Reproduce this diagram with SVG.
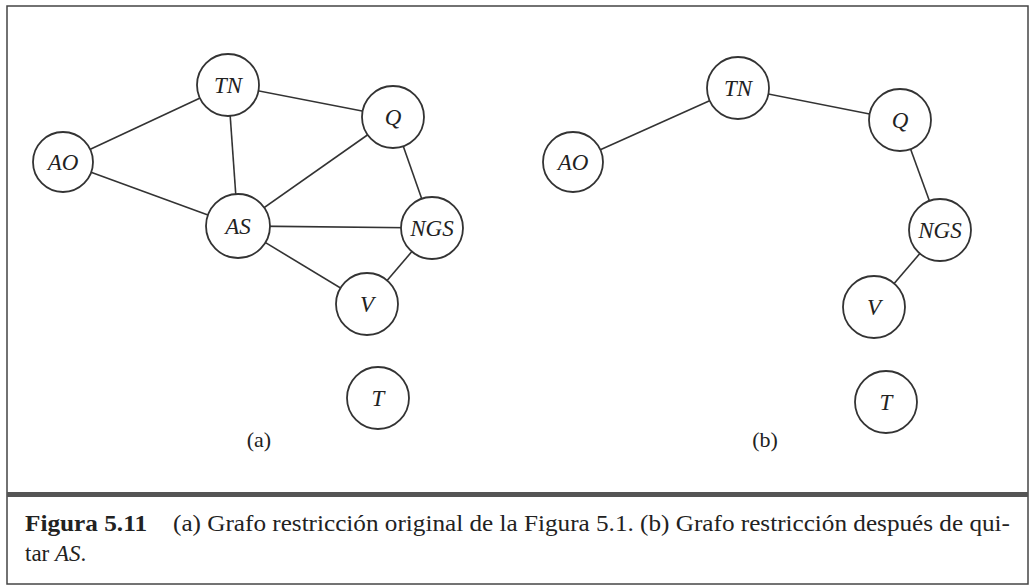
<svg xmlns="http://www.w3.org/2000/svg" width="1032" height="586" viewBox="0 0 1032 586">
<style>
.frame{fill:none;stroke:#444;stroke-width:1.5}
.edge{stroke:#333;stroke-width:1.6;fill:none}
.node circle{fill:#fff;stroke:#333;stroke-width:1.8}
.node text{font-family:"Liberation Serif","DejaVu Serif",serif;font-style:italic;font-size:23px;fill:#222;text-anchor:middle}
.sub{font-family:"Liberation Serif","DejaVu Serif",serif;font-size:22px;fill:#222;text-anchor:middle}
.cap{font-family:"Liberation Serif","DejaVu Serif",serif;font-size:23px;fill:#222}
</style>
<rect width="1032" height="586" fill="#fff"/>
<rect class="frame" x="7" y="6" width="1021" height="578"/>
<rect x="7" y="492" width="1021" height="5" fill="#555"/>
<g id="connectors">
<line class="edge" x1="228" y1="85" x2="63" y2="162"/>
<line class="edge" x1="228" y1="85" x2="393" y2="117"/>
<line class="edge" x1="228" y1="85" x2="238" y2="226"/>
<line class="edge" x1="63" y1="162" x2="238" y2="226"/>
<line class="edge" x1="393" y1="117" x2="238" y2="226"/>
<line class="edge" x1="393" y1="117" x2="432" y2="228"/>
<line class="edge" x1="238" y1="226" x2="432" y2="228"/>
<line class="edge" x1="238" y1="226" x2="367" y2="304"/>
<line class="edge" x1="432" y1="228" x2="367" y2="304"/>
<line class="edge" x1="573" y1="162" x2="738" y2="88"/>
<line class="edge" x1="738" y1="88" x2="900" y2="120"/>
<line class="edge" x1="900" y1="120" x2="940" y2="230"/>
<line class="edge" x1="940" y1="230" x2="874" y2="307"/>
</g>
<g id="a-TN" class="node"><circle cx="228" cy="85" r="31"/><text x="228" y="93">TN</text></g>
<g id="a-Q" class="node"><circle cx="393" cy="117" r="31"/><text x="393" y="125">Q</text></g>
<g id="a-AO" class="node"><circle cx="63" cy="162" r="30"/><text x="63" y="170">AO</text></g>
<g id="a-AS" class="node"><circle cx="238" cy="226" r="32"/><text x="238" y="234">AS</text></g>
<g id="a-NGS" class="node"><circle cx="432" cy="228" r="31"/><text x="432" y="236">NGS</text></g>
<g id="a-V" class="node"><circle cx="367" cy="304" r="31"/><text x="367" y="312">V</text></g>
<g id="a-T" class="node"><circle cx="378" cy="398" r="31"/><text x="378" y="406">T</text></g>
<g id="b-TN" class="node"><circle cx="738" cy="88" r="31"/><text x="738" y="96">TN</text></g>
<g id="b-Q" class="node"><circle cx="900" cy="120" r="31"/><text x="900" y="128">Q</text></g>
<g id="b-AO" class="node"><circle cx="573" cy="162" r="30"/><text x="573" y="170">AO</text></g>
<g id="b-NGS" class="node"><circle cx="940" cy="230" r="31"/><text x="940" y="238">NGS</text></g>
<g id="b-V" class="node"><circle cx="874" cy="307" r="31"/><text x="874" y="315">V</text></g>
<g id="b-T" class="node"><circle cx="886" cy="402" r="31"/><text x="886" y="410">T</text></g>
<text class="sub" x="259" y="447">(a)</text>
<text class="sub" x="765" y="447">(b)</text>
<text class="cap" x="25" y="531"><tspan font-weight="bold" textLength="122" lengthAdjust="spacingAndGlyphs">Figura 5.11</tspan><tspan x="173" textLength="837" lengthAdjust="spacingAndGlyphs">(a) Grafo restricción original de la Figura 5.1. (b) Grafo restricción después de qui-</tspan></text>
<text class="cap" x="25" y="561">tar <tspan font-style="italic">AS</tspan>.</text>
</svg>
